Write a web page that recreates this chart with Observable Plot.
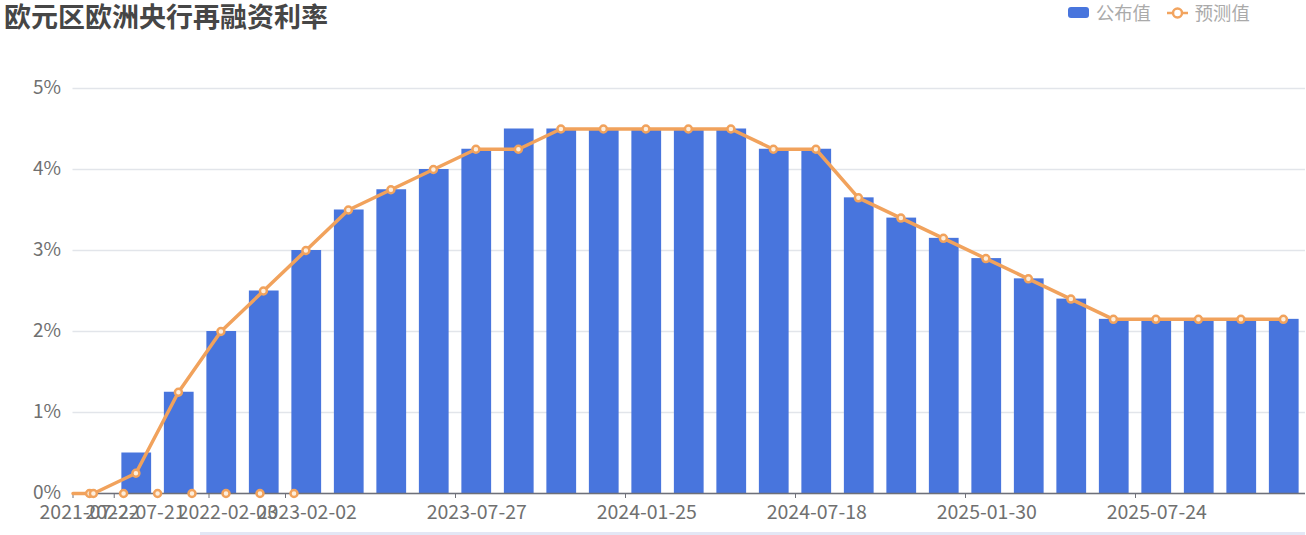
<!DOCTYPE html>
<html><head><meta charset="utf-8">
<script src="https://cdn.jsdelivr.net/npm/d3@7"></script>
<script src="https://cdn.jsdelivr.net/npm/@observablehq/plot@0.6"></script>
<style>
html,body{margin:0;padding:0;background:#fff;width:1306px;height:535px;overflow:hidden;font-family:"Noto Sans CJK SC","Noto Sans",sans-serif}
#wrap{position:relative;width:1306px;height:535px}
#title{position:absolute;left:4px;top:1px;font-size:27px;line-height:30px;font-weight:700;color:#464646;white-space:nowrap}
#legend{position:absolute;top:0;left:1068px;height:24px;display:flex;align-items:center;font-size:18.3px;color:#aaa;line-height:24px}
#legend .sw{width:21px;height:11px;border-radius:3px;background:#4875dd;margin-right:7px;margin-top:1px}
#legend svg{margin-left:16px;margin-right:7px;margin-top:1px}
#strip{position:absolute;left:200px;top:532px;width:1105px;height:3px;background:#e3e7f5}
svg.plot{position:absolute;left:0;top:0}
</style></head><body>
<div id="wrap">
<div id="chart"></div>
<div id="title">欧元区欧洲央行再融资利率</div>
<div id="legend"><span class="sw"></span><span>公布值</span>
<svg width="21" height="14" viewBox="0 0 21 14"><line x1="0" x2="21" y1="7" y2="7" stroke="#f2a45f" stroke-width="2.5"/><circle cx="10.5" cy="7" r="4.5" fill="#fff" stroke="#f2a45f" stroke-width="2.5"/></svg><span>预测值</span></div>
<div id="strip"></div>
</div>
<script>
// 公布值: one value per meeting slot, starting at slot 1
const barSlots = [1,2,3,4,5,6,7,8,9,10,11,12,13,14,15,16,17,18,19,20,21,22,23,24,25,26,27,28];
const barValues = [0.5,1.25,2,2.5,3,3.5,3.75,4,4.25,4.5,4.5,4.5,4.5,4.5,4.5,4.25,4.25,3.65,3.4,3.15,2.9,2.65,2.4,2.15,2.15,2.15,2.15,2.15];
// 预测值: line through the bar centres after its start at zero
const lineSlots = [0,0.39,0.48,1.48,2.48,3.48,4.48,5.48,6.48,7.48,8.48,9.48,10.48,11.48,12.48,13.48,14.48,15.48,16.48,17.48,18.48,19.48,20.48,21.48,22.48,23.48,24.48,25.48,26.48,27.48,28.48];
const lineValues = [0,0,0,0.25,1.25,2,2.5,3,3.5,3.75,4,4.25,4.25,4.5,4.5,4.5,4.5,4.5,4.25,4.25,3.65,3.4,3.15,2.9,2.65,2.4,2.15,2.15,2.15,2.15,2.15];
// 预测值 points without a line: zero readings off the band centres
const looseSlots = [1.19,1.99,2.8,3.6,4.4,5.2];
const looseValues = [0,0,0,0,0,0];
// x axis
const tickSlots = [0,0.97,3.2,5,9,13,17,21,25];
const labelSlots = [0.39,1.47,3.64,5.5,9.5,13.5,17.5,21.5,25.5];
const labelTexts = ["2021-07-22","2022-07-21","2022-02-03","2023-02-02","2023-07-27","2024-01-25","2024-07-18","2025-01-30","2025-07-24"];
const yTicks = [0,1,2,3,4,5];

const orange = "#f1a25c", blue = "#4875dd", gray = "#707070";
const bars = barSlots.map((s,i)=>({s,v:barValues[i]}));
const line = lineSlots.map((s,i)=>({s,v:lineValues[i]}));
const loose = looseSlots.map((s,i)=>({s,v:looseValues[i]}));
const labelOf = new Map(labelSlots.map((s,i)=>[s,labelTexts[i]]));

const chart = Plot.plot({
  width:1306, height:535, marginTop:88, marginBottom:42, marginLeft:72.5, marginRight:1,
  style:{fontFamily:'"Noto Sans CJK SC","Noto Sans",sans-serif',background:"transparent"},
  x:{type:"linear",domain:[0,29]},
  y:{domain:[0,5]},
  marks:[
    Plot.ruleY(yTicks,{stroke:"#e2e5ea",strokeWidth:1.4}),
    Plot.axisY({ticks:yTicks,tickSize:0,tickPadding:12,dy:-1,tickFormat:d=>d+"%",fontSize:19,fill:gray,label:null}),
    Plot.rectY(bars,{x1:d=>d.s+0.15,x2:d=>d.s+0.85,y1:0,y2:"v",fill:blue}),
    Plot.ruleY([0],{stroke:"#6e7079",strokeWidth:1.5}),
    Plot.axisX({ticks:tickSlots,tickSize:5,tickFormat:()=>"",stroke:"#6e7079",label:null}),
    Plot.axisX({ticks:labelSlots,tickSize:0,tickPadding:12,tickFormat:d=>labelOf.get(d),fontSize:19.5,fill:gray,label:null}),
    Plot.line(line,{x:"s",y:"v",stroke:orange,strokeWidth:3.5,curve:"linear"}),
    Plot.dot(line.slice(1),{x:"s",y:"v",r:3.5,fill:"#fdeedd",stroke:orange,strokeWidth:2.5}),
    Plot.dot(loose,{x:"s",y:"v",r:3.5,fill:"#fdeedd",stroke:orange,strokeWidth:2.5})
  ]
});
document.getElementById("chart").append(chart);
</script>
</body></html>
